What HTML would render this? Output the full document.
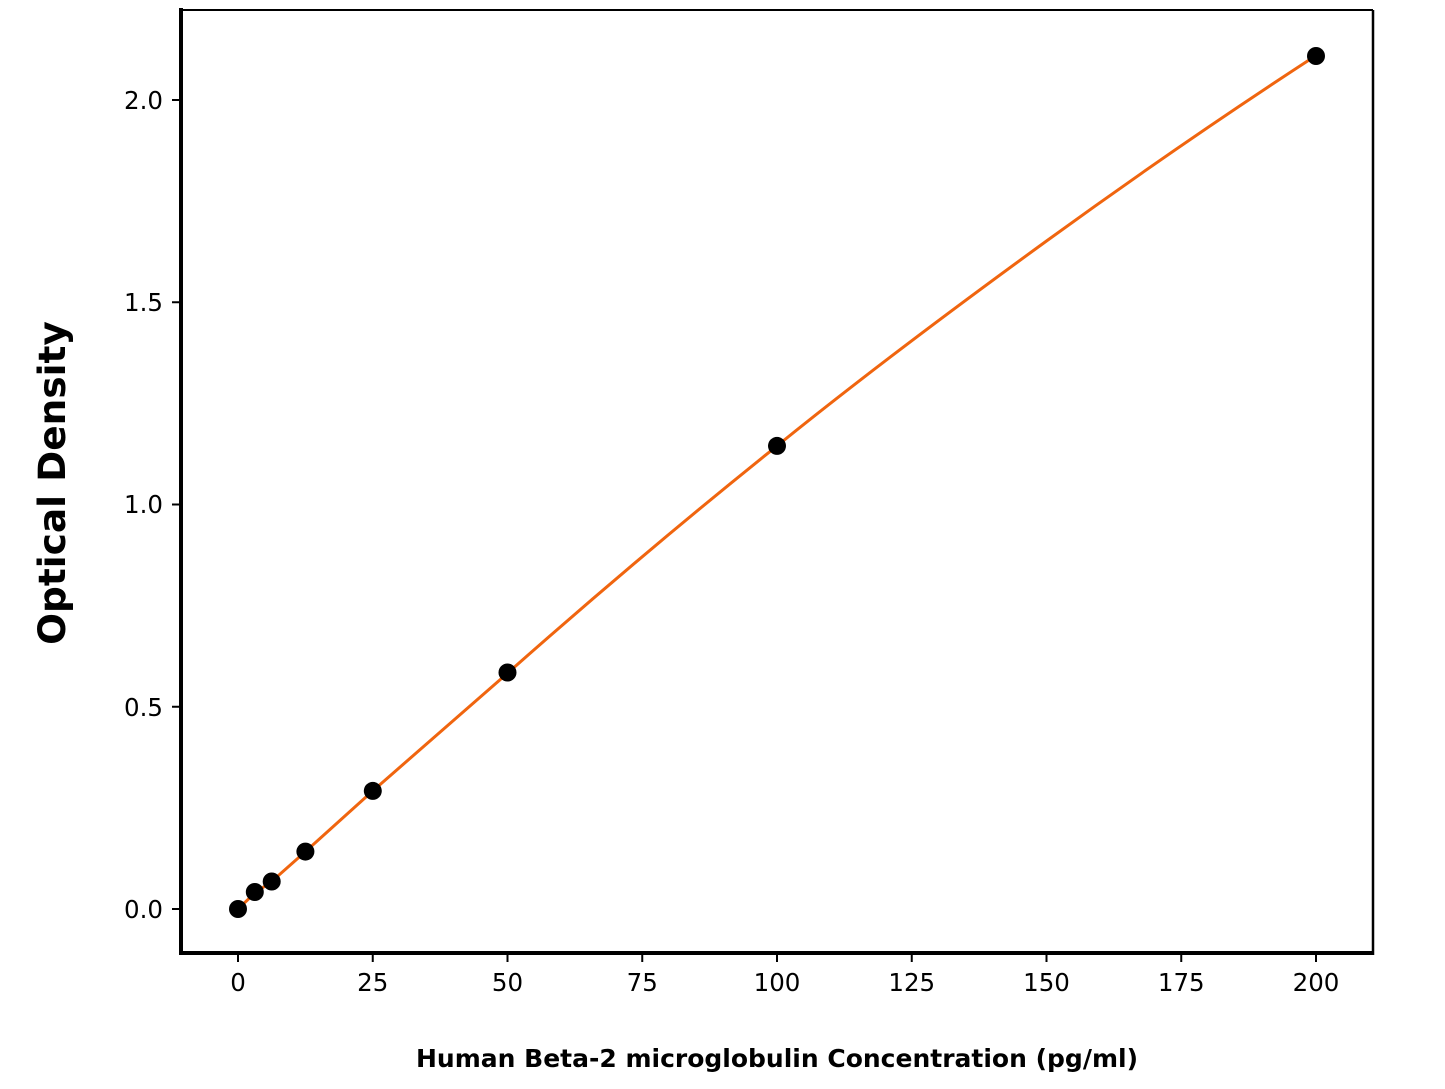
<!DOCTYPE html>
<html><head><meta charset="utf-8"><style>body{margin:0;background:#fff}</style></head><body>
<svg width="1445" height="1084" xmlns="http://www.w3.org/2000/svg" font-family="'DejaVu Sans', 'Liberation Sans', sans-serif">
<rect width="1445" height="1084" fill="#fff"/>
<line x1="181" y1="10" x2="1373" y2="10" stroke="#000" stroke-width="2"/>
<line x1="1373" y1="10" x2="1373" y2="955" stroke="#000" stroke-width="2.5"/>
<line x1="181" y1="8" x2="181" y2="955" stroke="#000" stroke-width="4"/>
<line x1="179" y1="953" x2="1374" y2="953" stroke="#000" stroke-width="4"/>
<g stroke="#000" stroke-width="2">
<line x1="172" y1="909" x2="179" y2="909"/><line x1="172" y1="706.75" x2="179" y2="706.75"/><line x1="172" y1="504.5" x2="179" y2="504.5"/><line x1="172" y1="302.25" x2="179" y2="302.25"/><line x1="172" y1="100" x2="179" y2="100"/>
<line x1="238" y1="955" x2="238" y2="962"/><line x1="372.75" y1="955" x2="372.75" y2="962"/><line x1="507.5" y1="955" x2="507.5" y2="962"/><line x1="642.25" y1="955" x2="642.25" y2="962"/><line x1="777" y1="955" x2="777" y2="962"/><line x1="911.75" y1="955" x2="911.75" y2="962"/><line x1="1046.5" y1="955" x2="1046.5" y2="962"/><line x1="1181.25" y1="955" x2="1181.25" y2="962"/><line x1="1316" y1="955" x2="1316" y2="962"/>
</g>
<g font-size="24.5" text-anchor="end" fill="#000">
<text x="163" y="918">0.0</text><text x="163" y="716">0.5</text><text x="163" y="513">1.0</text><text x="163" y="311">1.5</text><text x="163" y="109">2.0</text>
</g>
<g font-size="24.5" text-anchor="middle" fill="#000">
<text x="238" y="991">0</text><text x="372.75" y="991">25</text><text x="507.5" y="991">50</text><text x="642.25" y="991">75</text><text x="777" y="991">100</text><text x="911.75" y="991">125</text><text x="1046.5" y="991">150</text><text x="1181.25" y="991">175</text><text x="1316" y="991">200</text>
</g>
<text x="777" y="1067" font-size="25" font-weight="bold" text-anchor="middle">Human Beta-2 microglobulin Concentration (pg/ml)</text>
<text transform="translate(65,483) rotate(-90)" font-size="37.5" font-weight="bold" text-anchor="middle">Optical Density</text>
<path d="M238,909 L254.8,893 L271.7,881.5 L305.4,851.6 L372.8,790.9 L507.5,673.2 C597,594 687,518 777,445.9 C867,373 957,306 1046.5,241 C1136,176 1226,114 1316,55.5" fill="none" stroke="#f0650f" stroke-width="3"/>
<g fill="#000">
<circle cx="238" cy="909" r="9"/><circle cx="254.8" cy="892" r="9"/><circle cx="271.7" cy="881.5" r="9"/><circle cx="305.4" cy="851.6" r="9"/><circle cx="372.8" cy="790.9" r="9"/><circle cx="507.5" cy="672.5" r="9"/><circle cx="777" cy="445.9" r="9"/><circle cx="1316" cy="56" r="9"/>
</g>
</svg>
</body></html>
